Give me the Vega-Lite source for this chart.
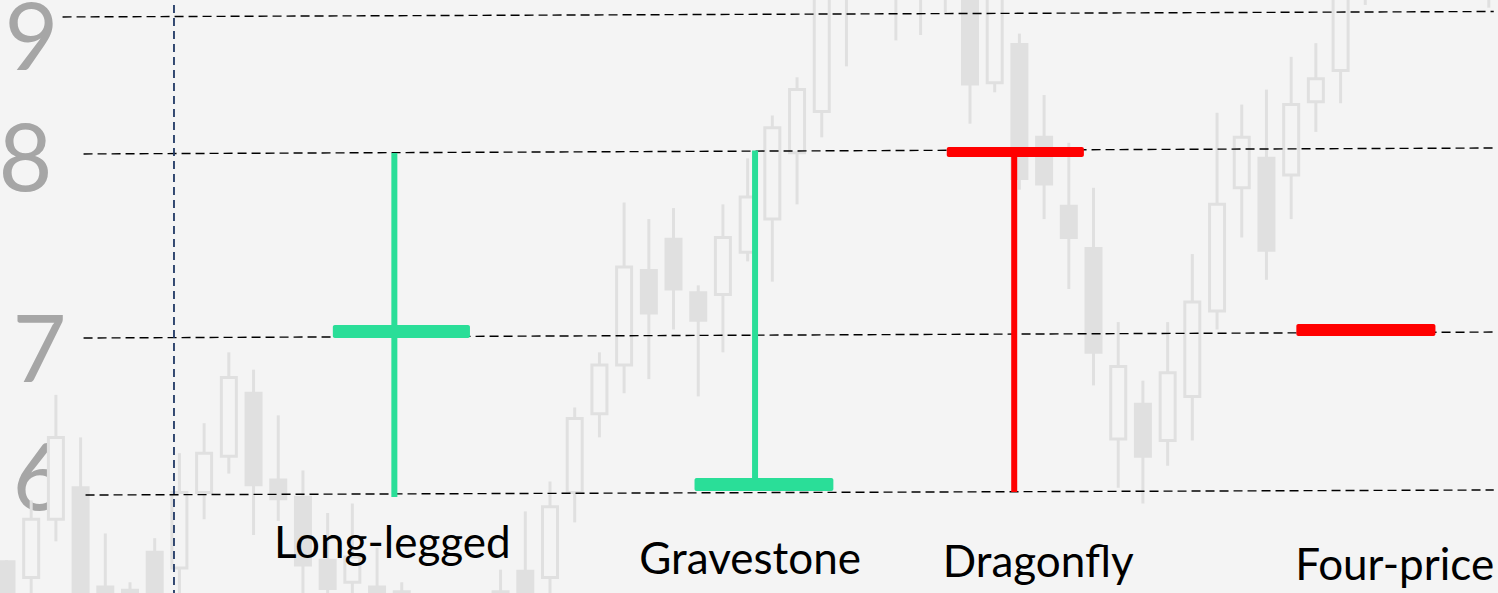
{
  "$schema": "https://vega.github.io/schema/vega-lite/v6.json",
  "width": 1498,
  "height": 593,
  "autosize": {"type": "none"},
  "padding": 0,
  "background": "#f4f4f4",
  "config": {
    "view": {"stroke": null},
    "axisY": {
      "domain": false, "ticks": false, "grid": false, "zindex": 1,
      "offset": -66,
      "labelFont": "Lato", "labelFontSize": 93, "labelColor": "#a6a6a6",
      "labelAlign": "right"
    }
  },
  "datasets": {
    "candles": [
      {"i": 0, "o": 5.56, "h": 5.57, "l": 5.32, "c": 5.32},
      {"i": 1, "o": 5.46, "h": 5.95, "l": 5.32, "c": 5.83},
      {"i": 2, "o": 5.83, "h": 6.62, "l": 5.69, "c": 6.35},
      {"i": 3, "o": 6.03, "h": 6.35, "l": 5.32, "c": 5.32},
      {"i": 4, "o": 5.40, "h": 5.74, "l": 5.32, "c": 5.32},
      {"i": 5, "o": 5.38, "h": 5.43, "l": 5.32, "c": 5.32},
      {"i": 6, "o": 5.62, "h": 5.71, "l": 5.32, "c": 5.32},
      {"i": 7, "o": 5.52, "h": 6.25, "l": 5.32, "c": 6.00},
      {"i": 8, "o": 6.00, "h": 6.44, "l": 5.83, "c": 6.25},
      {"i": 9, "o": 6.23, "h": 6.89, "l": 6.12, "c": 6.73},
      {"i": 10, "o": 6.63, "h": 6.78, "l": 5.73, "c": 6.05},
      {"i": 11, "o": 6.08, "h": 6.49, "l": 5.82, "c": 5.96},
      {"i": 12, "o": 5.97, "h": 6.14, "l": 5.32, "c": 5.54},
      {"i": 13, "o": 5.57, "h": 5.87, "l": 5.32, "c": 5.39},
      {"i": 14, "o": 5.43, "h": 5.93, "l": 5.32, "c": 5.59},
      {"i": 15, "o": 5.40, "h": 5.65, "l": 5.32, "c": 5.32},
      {"i": 16, "o": 5.37, "h": 5.43, "l": 5.32, "c": 5.32},
      {"i": 20, "o": 5.37, "h": 5.51, "l": 5.32, "c": 5.32},
      {"i": 21, "o": 5.50, "h": 5.88, "l": 5.32, "c": 5.32},
      {"i": 22, "o": 5.46, "h": 6.07, "l": 5.32, "c": 5.91},
      {"i": 23, "o": 6.00, "h": 6.54, "l": 5.81, "c": 6.47},
      {"i": 24, "o": 6.50, "h": 6.89, "l": 6.35, "c": 6.81},
      {"i": 25, "o": 6.81, "h": 7.72, "l": 6.63, "c": 7.37},
      {"i": 26, "o": 7.35, "h": 7.63, "l": 6.72, "c": 7.12},
      {"i": 27, "o": 7.52, "h": 7.69, "l": 7.03, "c": 7.25},
      {"i": 28, "o": 7.23, "h": 7.27, "l": 6.61, "c": 7.08},
      {"i": 29, "o": 7.22, "h": 7.71, "l": 6.89, "c": 7.53},
      {"i": 30, "o": 7.45, "h": 7.96, "l": 7.40, "c": 7.75},
      {"i": 31, "o": 7.63, "h": 8.26, "l": 7.29, "c": 8.17},
      {"i": 32, "o": 7.99, "h": 8.54, "l": 7.71, "c": 8.45},
      {"i": 33, "o": 8.29, "h": 9.25, "l": 8.10, "c": 9.18},
      {"i": 34, "o": 9.22, "h": 9.40, "l": 8.62, "c": 9.33},
      {"i": 36, "o": 9.21, "h": 9.40, "l": 8.81, "c": 9.33},
      {"i": 37, "o": 9.21, "h": 9.40, "l": 8.85, "c": 9.33},
      {"i": 38, "o": 9.21, "h": 9.40, "l": 9.01, "c": 9.33},
      {"i": 39, "o": 9.18, "h": 9.25, "l": 8.20, "c": 8.49},
      {"i": 40, "o": 8.50, "h": 9.25, "l": 8.43, "c": 9.18},
      {"i": 41, "o": 8.78, "h": 8.86, "l": 7.79, "c": 7.85},
      {"i": 42, "o": 8.10, "h": 8.41, "l": 7.63, "c": 7.82},
      {"i": 43, "o": 7.70, "h": 8.06, "l": 7.25, "c": 7.53},
      {"i": 44, "o": 7.47, "h": 7.80, "l": 6.68, "c": 6.89},
      {"i": 45, "o": 6.34, "h": 7.07, "l": 6.03, "c": 6.80},
      {"i": 46, "o": 6.56, "h": 6.71, "l": 5.93, "c": 6.23},
      {"i": 47, "o": 6.33, "h": 7.07, "l": 6.17, "c": 6.76},
      {"i": 48, "o": 6.61, "h": 7.44, "l": 6.33, "c": 7.18},
      {"i": 49, "o": 7.13, "h": 8.28, "l": 7.03, "c": 7.71},
      {"i": 50, "o": 7.80, "h": 8.34, "l": 7.53, "c": 8.10},
      {"i": 51, "o": 7.96, "h": 8.45, "l": 7.30, "c": 7.46},
      {"i": 52, "o": 7.87, "h": 8.69, "l": 7.63, "c": 8.34},
      {"i": 53, "o": 8.36, "h": 8.79, "l": 8.14, "c": 8.53},
      {"i": 54, "o": 8.59, "h": 9.25, "l": 8.35, "c": 9.18},
      {"i": 55, "o": 9.21, "h": 9.40, "l": 9.07, "c": 9.33},
      {"i": 60, "o": 9.21, "h": 9.40, "l": 9.05, "c": 9.33}
    ],
    "grid": [
      {"level": 9, "x": 2.27, "y": 8.982},
      {"level": 9, "x": 60.2, "y": 9.022},
      {"level": 8, "x": 3.12, "y": 7.984},
      {"level": 8, "x": 60.2, "y": 8.022},
      {"level": 7, "x": 3.12, "y": 6.981},
      {"level": 7, "x": 60.2, "y": 7.016},
      {"level": 6, "x": 3.2, "y": 5.984},
      {"level": 6, "x": 60.2, "y": 6.016}
    ],
    "vline": [{"x": 6.78, "top": 9.07, "bottom": 5.3}],
    "doji": [
      {"name": "Long-legged", "trend": "bull", "wx": 15.70, "high": 7.989, "low": 5.971, "b1": 13.21, "b2": 18.76, "open": 6.981, "close": 7.054},
      {"name": "Gravestone", "trend": "bull", "wx": 30.30, "high": 8.004, "low": 6.010, "b1": 27.85, "b2": 33.47, "open": 6.010, "close": 6.092},
      {"name": "Dragonfly", "trend": "bear", "wx": 40.79, "high": 8.029, "low": 6.003, "b1": 38.06, "b2": 43.61, "open": 8.029, "close": 7.967},
      {"name": "Four-price", "trend": "bear", "wx": null, "high": null, "low": null, "b1": 52.21, "b2": 57.84, "open": 7.060, "close": 6.994}
    ],
    "labels": [
      {"name": "Long-legged", "x": 15.62, "y": 5.584},
      {"name": "Gravestone", "x": 30.10, "y": 5.483},
      {"name": "Dragonfly", "x": 41.76, "y": 5.463},
      {"name": "Four-price", "x": 56.19, "y": 5.444}
    ]
  },
  "layer": [
    {
      "data": {"name": "candles"},
      "mark": {"type": "rule", "color": "#e0e0e0", "strokeWidth": 3, "clip": true},
      "encoding": {
        "x": {"field": "i", "type": "quantitative", "scale": {"domain": [-0.06, 60.17], "nice": false, "zero": false}, "axis": null},
        "y": {
          "field": "l", "type": "quantitative",
          "scale": {"domain": [6, 7, 8, 9], "range": [492.5, 335, 151, 14.5], "nice": false, "zero": false},
          "axis": {"values": [6, 7, 8, 9], "format": "d", "title": null,
            "labelOffset": {"condition": [{"test": "datum.value == 9", "value": 27}, {"test": "datum.value == 8", "value": 11}, {"test": "datum.value == 7", "value": 18}], "value": -11},
            "labelPadding": {"condition": [{"test": "datum.value == 9", "value": 8}, {"test": "datum.value == 8", "value": 14}], "value": 0}}
        },
        "y2": {"field": "h"}
      }
    },
    {
      "data": {"name": "candles"},
      "mark": {"type": "bar", "size": 15, "stroke": "#e0e0e0", "strokeWidth": 3, "clip": true},
      "encoding": {
        "x": {"field": "i", "type": "quantitative", "axis": null},
        "y": {"field": "o", "type": "quantitative",
          "axis": {"values": [6, 7, 8, 9], "format": "d", "title": null,
            "labelOffset": {"condition": [{"test": "datum.value == 9", "value": 27}, {"test": "datum.value == 8", "value": 11}, {"test": "datum.value == 7", "value": 18}], "value": -11},
            "labelPadding": {"condition": [{"test": "datum.value == 9", "value": 8}, {"test": "datum.value == 8", "value": 14}], "value": 0}}},
        "y2": {"field": "c"},
        "fill": {"condition": {"test": "datum.c > datum.o", "value": "#f4f4f4"}, "value": "#e0e0e0"}
      }
    },
    {
      "data": {"name": "grid"},
      "mark": {"type": "line", "color": "#000000", "strokeWidth": 1.4, "strokeDash": [9, 5]},
      "encoding": {
        "x": {"field": "x", "type": "quantitative", "axis": null},
        "y": {"field": "y", "type": "quantitative",
          "axis": {"values": [6, 7, 8, 9], "format": "d", "title": null,
            "labelOffset": {"condition": [{"test": "datum.value == 9", "value": 27}, {"test": "datum.value == 8", "value": 11}, {"test": "datum.value == 7", "value": 18}], "value": -11},
            "labelPadding": {"condition": [{"test": "datum.value == 9", "value": 8}, {"test": "datum.value == 8", "value": 14}], "value": 0}}},
        "detail": {"field": "level", "type": "nominal"}
      }
    },
    {
      "data": {"name": "vline"},
      "mark": {"type": "rule", "color": "#203864", "strokeWidth": 1.8, "strokeDash": [8, 5]},
      "encoding": {
        "x": {"field": "x", "type": "quantitative", "axis": null},
        "y": {"field": "top", "type": "quantitative",
          "axis": {"values": [6, 7, 8, 9], "format": "d", "title": null,
            "labelOffset": {"condition": [{"test": "datum.value == 9", "value": 27}, {"test": "datum.value == 8", "value": 11}, {"test": "datum.value == 7", "value": 18}], "value": -11},
            "labelPadding": {"condition": [{"test": "datum.value == 9", "value": 8}, {"test": "datum.value == 8", "value": 14}], "value": 0}}},
        "y2": {"field": "bottom"}
      }
    },
    {
      "data": {"name": "doji"},
      "mark": {"type": "rule", "strokeWidth": 6},
      "encoding": {
        "x": {"field": "wx", "type": "quantitative", "axis": null},
        "y": {"field": "low", "type": "quantitative",
          "axis": {"values": [6, 7, 8, 9], "format": "d", "title": null,
            "labelOffset": {"condition": [{"test": "datum.value == 9", "value": 27}, {"test": "datum.value == 8", "value": 11}, {"test": "datum.value == 7", "value": 18}], "value": -11},
            "labelPadding": {"condition": [{"test": "datum.value == 9", "value": 8}, {"test": "datum.value == 8", "value": 14}], "value": 0}}},
        "y2": {"field": "high"},
        "color": {"field": "trend", "type": "nominal", "scale": {"domain": ["bull", "bear"], "range": ["#2ade98", "#ff0000"]}, "legend": null}
      }
    },
    {
      "data": {"name": "doji"},
      "mark": {"type": "rect", "cornerRadius": 2},
      "encoding": {
        "x": {"field": "b1", "type": "quantitative", "axis": null},
        "x2": {"field": "b2"},
        "y": {"field": "open", "type": "quantitative",
          "axis": {"values": [6, 7, 8, 9], "format": "d", "title": null,
            "labelOffset": {"condition": [{"test": "datum.value == 9", "value": 27}, {"test": "datum.value == 8", "value": 11}, {"test": "datum.value == 7", "value": 18}], "value": -11},
            "labelPadding": {"condition": [{"test": "datum.value == 9", "value": 8}, {"test": "datum.value == 8", "value": 14}], "value": 0}}},
        "y2": {"field": "close"},
        "color": {"field": "trend", "type": "nominal", "legend": null}
      }
    },
    {
      "data": {"name": "labels"},
      "mark": {"type": "text", "font": "Lato", "fontSize": 44, "color": "#000000", "align": "center", "baseline": "alphabetic"},
      "encoding": {
        "x": {"field": "x", "type": "quantitative", "axis": null},
        "y": {"field": "y", "type": "quantitative",
          "axis": {"values": [6, 7, 8, 9], "format": "d", "title": null,
            "labelOffset": {"condition": [{"test": "datum.value == 9", "value": 27}, {"test": "datum.value == 8", "value": 11}, {"test": "datum.value == 7", "value": 18}], "value": -11},
            "labelPadding": {"condition": [{"test": "datum.value == 9", "value": 8}, {"test": "datum.value == 8", "value": 14}], "value": 0}}},
        "text": {"field": "name", "type": "nominal"}
      }
    }
  ]
}
